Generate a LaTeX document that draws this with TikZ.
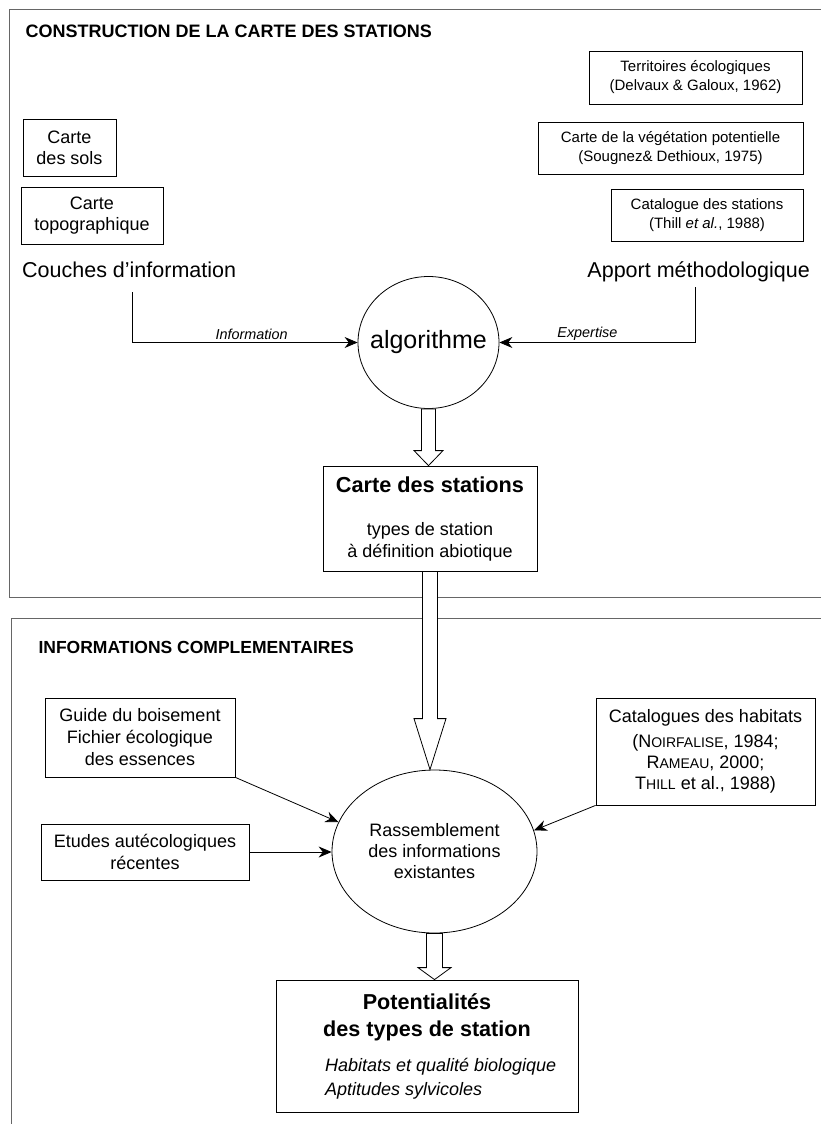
\documentclass[tikz,border=0pt]{standalone}
\usepackage{fontspec}
\setmainfont{Liberation Sans}
\usetikzlibrary{arrows.meta,calc,shapes.geometric}

\tikzset{
  boite/.style={draw, line width=0.8pt, align=center, inner sep=0pt},
  cadre/.style={draw=black!60, line width=1pt},
  fleche/.style={-{Stealth[length=13pt,width=11pt]}, line width=0.8pt},
  creuse/.style={draw, fill=white, line width=0.8pt, line join=miter},
  etiquette/.style={font=\fontsize{14.4}{16}\selectfont\itshape, above, inner sep=2pt},
}
\newcommand{\taille}[2]{\fontsize{#1}{#2}\selectfont}
\newcommand{\gras}[1]{{\bfseries\taille{21.6}{24}#1}}
\newcommand{\petcap}[2]{#1{\taille{14}{14}#2}}
\newcommand{\flechecreuse}[5]{%
  \draw[creuse] let \p1=(#1), \p2=(#2) in
    (\x1-#3,\y1) -- (\x1-#3,\y2+#5) -- (\x1-#4,\y2+#5) -- (\x1,\y2)
    -- (\x1+#4,\y2+#5) -- (\x1+#3,\y2+#5) -- (\x1+#3,\y1) -- cycle;}

\begin{document}
\begin{tikzpicture}[x=1pt,y=-1pt]
\useasboundingbox (0,0) rectangle (821,1124);

% Cadres
\draw[cadre] (830,10) -- (9,10) -- (9,597) -- (830,597);
\draw[cadre] (830,618) -- (11,618) -- (11,1130);
\node[anchor=base west, font=\bfseries\taille{18}{20}] (titre1) at (22,38) {CONSTRUCTION DE LA CARTE DES STATIONS};
\node[anchor=base west, font=\bfseries\taille{17.5}{20}] (titre2) at (35,653) {INFORMATIONS COMPLEMENTAIRES};

% Couches d'information
\node[boite, minimum width=93, minimum height=57, font=\taille{18}{21}] (sols) at (69.5,147.5) {Carte\\des sols};
\node[boite, minimum width=142, minimum height=57, font=\taille{18}{21}] (topo) at (92,215.5) {Carte\\topographique};
\node[anchor=base west, font=\taille{21.5}{24}, inner sep=0pt] (couches) at (22,277) {Couches d’information};

% Apport methodologique
\node[boite, minimum width=213, minimum height=53, font=\taille{15}{19}] (terr) at (695.5,77.5) {Territoires écologiques\\(Delvaux \& Galoux, 1962)};
\node[boite, minimum width=265, minimum height=52, font=\taille{15}{19}] (veget) at (670.5,148) {Carte de la végétation potentielle\\(Sougnez\& Dethioux, 1975)};
\node[boite, minimum width=192, minimum height=52, font=\taille{15}{19}] (catst) at (707,215) {Catalogue des stations\\(Thill \textit{et al.}, 1988)};
\node[anchor=base east, font=\taille{21.5}{24}, inner sep=0pt] (apport) at (810,277) {Apport méthodologique};

% Algorithme
\node[draw, ellipse, line width=0.8pt, minimum width=141, minimum height=132, inner sep=0pt, font=\taille{25}{28}] (algo) at (428.5,342.5) {\makebox[0pt]{algorithme}};
\coordinate (infohaut) at (132,292);
\coordinate (experthaut) at (695,287);
\draw[fleche] (infohaut) |- node[etiquette, pos=0.765] (infolbl) {Information} (algo.west);
\draw[fleche] (experthaut) |- node[etiquette, pos=0.775] (expertlbl) {Expertise} (algo.east);

% Carte des stations
\node[boite, minimum width=214, minimum height=105, font=\taille{18}{22}] (stations) at (430,518.5) {{\bfseries\taille{21.7}{22}Carte des stations}\\[21pt]types de station\\à définition abiotique};
\flechecreuse{algo.south}{stations.north}{7pt}{14.5pt}{15pt}

% Informations complementaires
\node[boite, minimum width=190, minimum height=79, font=\taille{18}{22}] (guide) at (140,737.5) {Guide du boisement\\Fichier écologique\\des essences};
\node[boite, minimum width=208, minimum height=56, font=\taille{18}{22}] (etudes) at (145,852) {Etudes autécologiques\\récentes};
\node[boite, minimum width=219, minimum height=107, font=\taille{18}{21}] (catal) at (705.5,751.5) {Catalogues des habitats\\[4pt](\petcap{N}{OIRFALISE}, 1984;\\\petcap{R}{AMEAU}, 2000;\\\petcap{T}{HILL} et al., 1988)};
\node[draw, ellipse, line width=0.8pt, minimum width=205, minimum height=163, inner sep=0pt, align=center, font=\taille{18}{21}] (rass) at (434.5,851.5) {Rassemblement\\des informations\\existantes};
\flechecreuse{stations.south}{rass.north}{7.5pt}{16pt}{51pt}
\draw[fleche] (guide.south east) -- (rass.163);
\draw[fleche] (etudes.east) -- (etudes.east -| rass.west);
\draw[fleche] (catal.south west) -- (rass.12);

% Potentialites
\node[boite, minimum width=302, minimum height=132, font=\taille{18}{24}] (pot) at (427,1046) {\gras{Potentialités}\\[3pt]\gras{des types de station}\\[11pt]\hspace*{29pt}\makebox[233pt][l]{\itshape Habitats et qualité biologique}\\\hspace*{29pt}\makebox[233pt][l]{\itshape Aptitudes sylvicoles}};
\flechecreuse{rass.south}{pot.north}{8pt}{16.5pt}{12pt}
\end{tikzpicture}
\end{document}
